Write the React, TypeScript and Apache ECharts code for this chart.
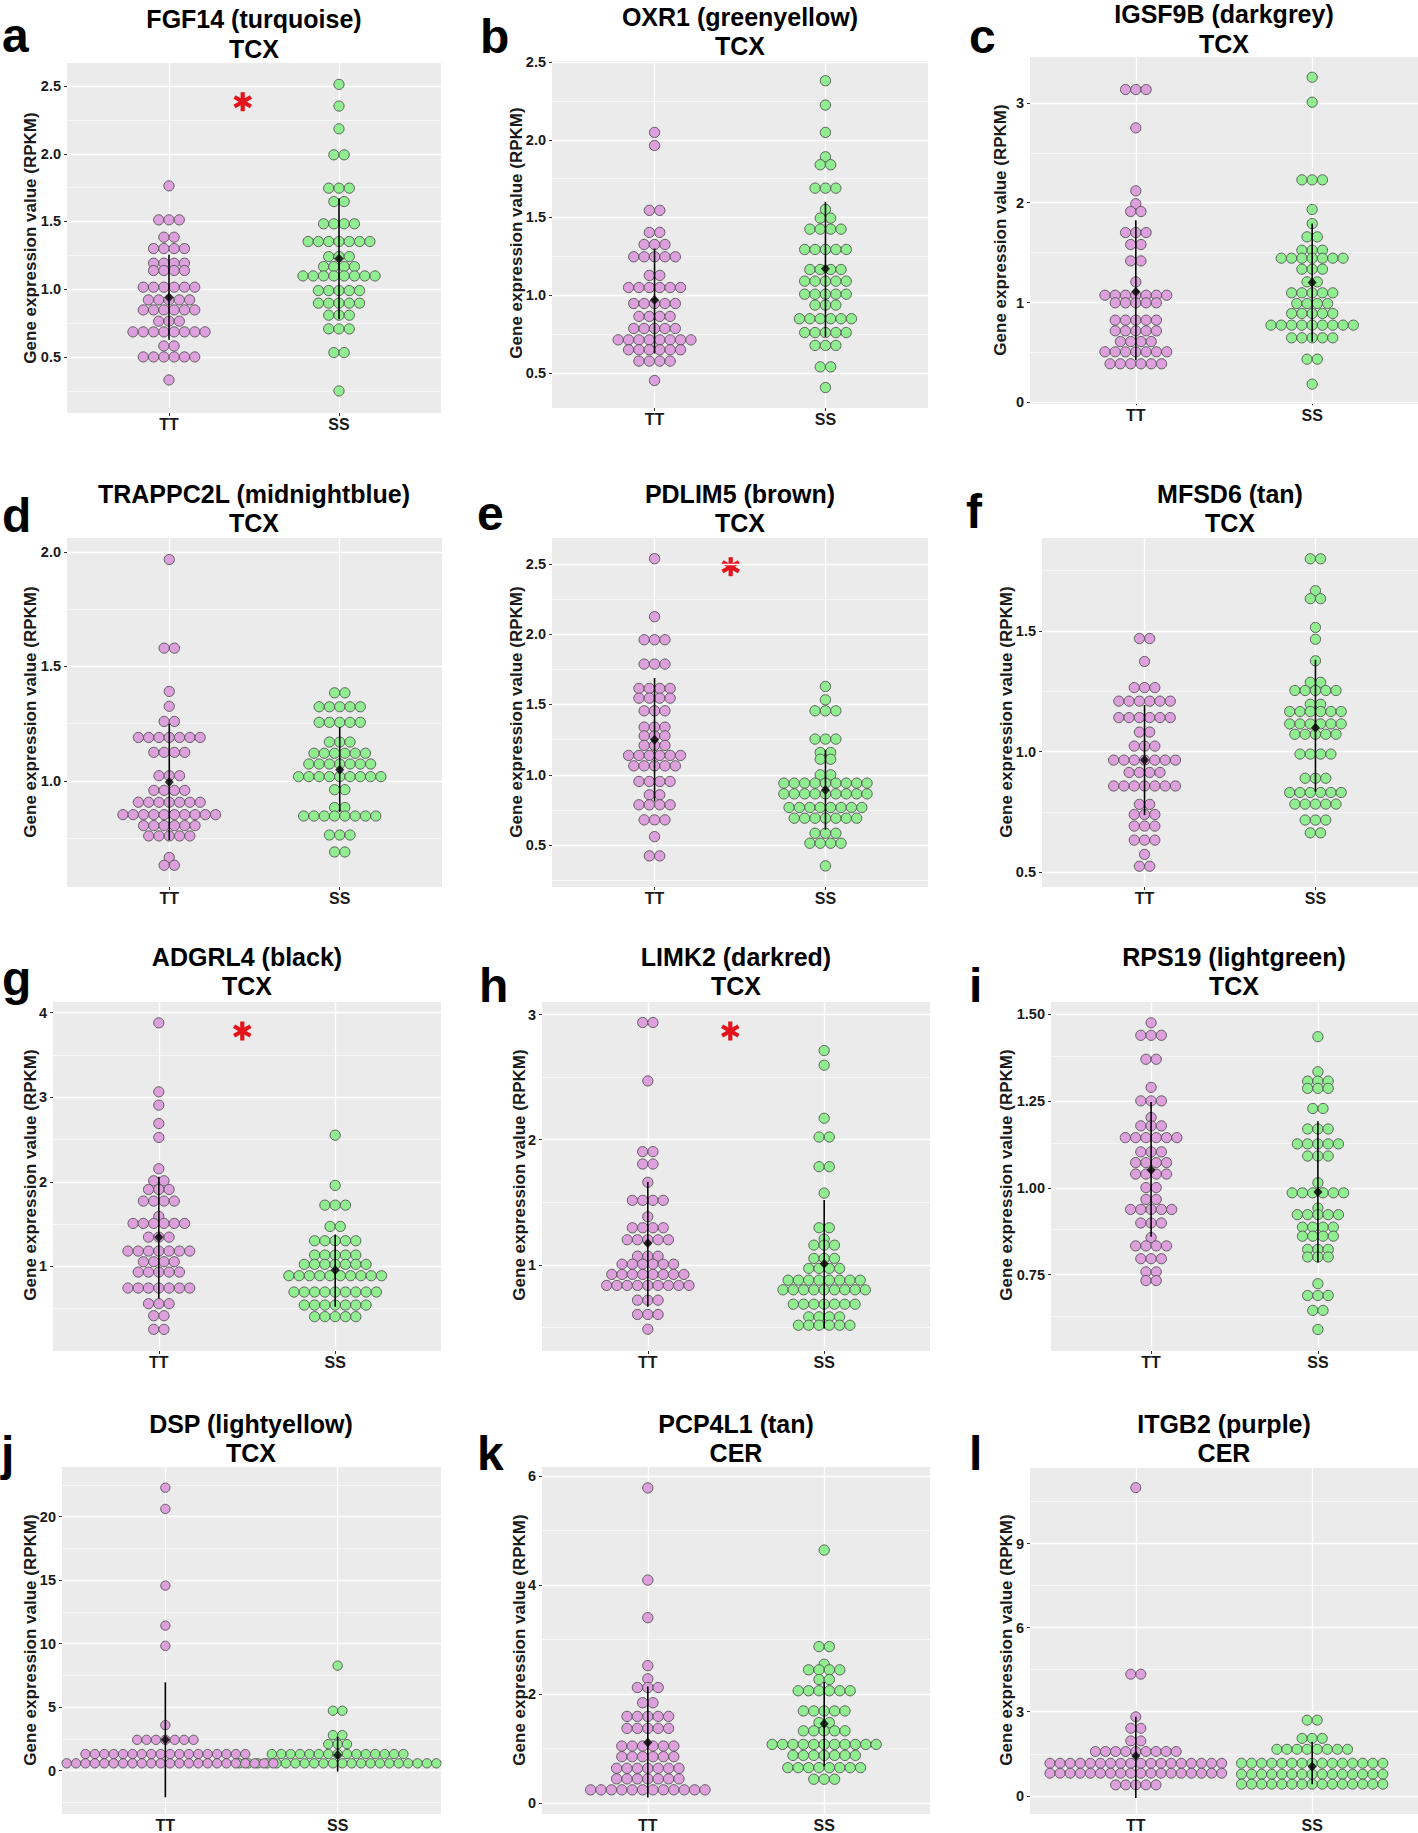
import React, { useEffect, useRef } from "react";
import * as echarts from "echarts";

type Row = [number, number]; // [expression value of a stack row, number of dots in that row]

const GROUPS = ["TT", "SS"];
const GENES = [
  "FGF14 (turquoise)", "OXR1 (greenyellow)", "IGSF9B (darkgrey)",
  "TRAPPC2L (midnightblue)", "PDLIM5 (brown)", "MFSD6 (tan)",
  "ADGRL4 (black)", "LIMK2 (darkred)", "RPS19 (lightgreen)",
  "DSP (lightyellow)", "PCP4L1 (tan)", "ITGB2 (purple)",
];
const TISSUES = ["TCX", "TCX", "TCX", "TCX", "TCX", "TCX", "TCX", "TCX", "TCX", "TCX", "CER", "CER"];
const LETTERS = ["a", "b", "c", "d", "e", "f", "g", "h", "i", "j", "k", "l"];
const SIGNIFICANT = [true, false, false, false, true, false, true, true, false, false, false, false];
const Y_TITLE = "Gene expression value (RPKM)";

// ---- dot rows (value, count) per gene and genotype ----
const FGF14_TT: Row[] = [[1.763,1],[1.512,3],[1.384,2],[1.30,4],[1.192,4],[1.138,4],[1.015,6],[0.921,5],[0.847,6],[0.764,3],[0.685,8],[0.581,2],[0.5,6],[0.33,1]];
const FGF14_SS: Row[] = [[2.512,1],[2.352,1],[2.184,1],[1.992,2],[1.746,3],[1.647,2],[1.483,4],[1.352,7],[1.241,3],[1.167,4],[1.098,8],[0.99,5],[0.897,5],[0.808,3],[0.707,3],[0.532,2],[0.249,1]];
const OXR1_TT: Row[] = [[2.048,1],[1.964,1],[1.546,2],[1.404,2],[1.326,3],[1.247,5],[1.127,2],[1.049,6],[0.946,5],[0.863,4],[0.785,5],[0.712,8],[0.648,6],[0.575,4],[0.45,1]];
const OXR1_SS: Row[] = [[2.381,1],[2.224,1],[2.048,1],[1.891,1],[1.84,2],[1.689,3],[1.552,1],[1.496,2],[1.425,4],[1.294,5],[1.165,4],[1.09,5],[1.006,5],[0.936,3],[0.848,6],[0.759,5],[0.676,3],[0.538,2],[0.405,1]];
const IGSF9B_TT: Row[] = [[3.134,3],[2.75,1],[2.119,1],[1.99,1],[1.912,2],[1.701,3],[1.581,2],[1.417,2],[1.207,1],[1.073,7],[0.997,5],[0.823,5],[0.716,5],[0.609,4],[0.506,7],[0.386,6]];
const IGSF9B_SS: Row[] = [[3.257,1],[3.007,1],[2.229,3],[1.932,1],[1.791,1],[1.658,2],[1.524,3],[1.444,7],[1.334,3],[1.207,2],[1.097,5],[0.99,4],[0.89,5],[0.773,9],[0.646,5],[0.432,2],[0.182,1]];
const TRAPPC2L_TT: Row[] = [[1.967,1],[1.58,2],[1.391,1],[1.326,1],[1.26,2],[1.19,7],[1.125,4],[1.023,3],[0.959,4],[0.907,7],[0.853,10],[0.805,6],[0.76,5],[0.666,1],[0.632,2]];
const TRAPPC2L_SS: Row[] = [[1.385,2],[1.324,5],[1.256,5],[1.17,3],[1.121,6],[1.074,7],[1.019,9],[0.962,2],[0.884,2],[0.847,8],[0.764,3],[0.69,2]];
const PDLIM5_TT: Row[] = [[2.536,1],[2.124,1],[1.96,3],[1.787,3],[1.614,4],[1.545,4],[1.455,3],[1.339,3],[1.277,3],[1.209,3],[1.138,6],[1.064,5],[0.953,4],[0.858,2],[0.787,4],[0.68,3],[0.561,1],[0.424,2]];
const PDLIM5_SS: Row[] = [[1.628,1],[1.533,1],[1.455,3],[1.254,3],[1.159,2],[1.111,2],[1.0,2],[0.941,9],[0.865,9],[0.768,8],[0.692,7],[0.585,3],[0.514,4],[0.353,1]];
const MFSD6_TT: Row[] = [[1.468,2],[1.373,1],[1.265,3],[1.209,6],[1.141,6],[1.081,2],[1.023,3],[0.965,7],[0.914,4],[0.858,7],[0.782,2],[0.74,3],[0.692,3],[0.634,3],[0.575,1],[0.526,2]];
const MFSD6_SS: Row[] = [[1.798,2],[1.666,1],[1.633,2],[1.514,1],[1.465,1],[1.376,1],[1.287,2],[1.253,5],[1.196,2],[1.166,6],[1.115,6],[1.072,5],[0.99,4],[0.89,3],[0.831,6],[0.783,5],[0.717,3],[0.664,2]];
const ADGRL4_TT: Row[] = [[3.878,1],[3.063,1],[2.906,1],[2.689,1],[2.524,1],[2.154,1],[2.012,2],[1.909,3],[1.772,4],[1.591,1],[1.508,6],[1.346,3],[1.181,7],[1.055,4],[0.933,5],[0.744,7],[0.559,3],[0.417,2],[0.256,2]];
const ADGRL4_SS: Row[] = [[2.551,1],[1.957,1],[1.724,3],[1.472,2],[1.303,5],[1.134,5],[1.024,7],[0.89,10],[0.697,9],[0.543,7],[0.406,5]];
const LIMK2_TT: Row[] = [[2.936,2],[2.469,1],[1.904,2],[1.805,2],[1.659,1],[1.515,4],[1.384,1],[1.296,4],[1.2,5],[1.069,3],[1.005,6],[0.923,8],[0.835,9],[0.717,3],[0.603,3],[0.485,1]];
const LIMK2_SS: Row[] = [[2.712,1],[2.595,1],[2.171,1],[2.021,2],[1.784,2],[1.573,1],[1.296,2],[1.205,1],[1.157,3],[1.051,3],[0.971,4],[0.877,8],[0.8,9],[0.685,7],[0.584,4],[0.517,6]];
const RPS19_TT: Row[] = [[1.476,1],[1.44,3],[1.371,2],[1.29,1],[1.251,3],[1.203,1],[1.179,3],[1.145,6],[1.104,3],[1.073,4],[1.04,4],[1.001,2],[0.967,2],[0.938,5],[0.899,3],[0.857,1],[0.833,4],[0.796,3],[0.758,2],[0.733,2]];
const RPS19_SS: Row[] = [[1.436,1],[1.335,1],[1.308,3],[1.287,3],[1.229,2],[1.17,3],[1.127,5],[1.092,3],[1.015,1],[0.986,6],[0.942,1],[0.923,5],[0.887,4],[0.861,4],[0.823,3],[0.801,3],[0.724,1],[0.69,3],[0.647,2],[0.592,1]];
const DSP_TT: Row[] = [[22.27,1],[20.6,1],[14.56,1],[11.41,1],[9.82,1],[3.57,1],[2.42,7],[1.30,18],[0.57,24]];
const DSP_SS: Row[] = [[8.26,1],[4.71,2],[2.79,2],[2.08,3],[1.30,15],[0.57,22]];
const PCP4L1_TT: Row[] = [[5.78,1],[4.09,1],[3.40,1],[2.52,1],[2.28,1],[2.12,3],[1.84,2],[1.59,5],[1.37,5],[1.046,6],[0.851,6],[0.638,7],[0.444,7],[0.243,12]];
const PCP4L1_SS: Row[] = [[4.64,1],[2.87,2],[2.547,1],[2.444,4],[2.267,2],[2.06,6],[1.69,5],[1.477,2],[1.325,5],[1.076,11],[0.875,7],[0.65,8],[0.438,3]];
const ITGB2_TT: Row[] = [[11.0,1],[4.34,2],[2.82,1],[2.41,2],[1.96,2],[1.58,9],[1.16,18],[0.806,18],[0.39,5]];
const ITGB2_SS: Row[] = [[2.70,2],[2.05,3],[1.66,8],[1.162,15],[0.77,15],[0.415,15]];

const TT_ROWS = [FGF14_TT, OXR1_TT, IGSF9B_TT, TRAPPC2L_TT, PDLIM5_TT, MFSD6_TT, ADGRL4_TT, LIMK2_TT, RPS19_TT, DSP_TT, PCP4L1_TT, ITGB2_TT];
const SS_ROWS = [FGF14_SS, OXR1_SS, IGSF9B_SS, TRAPPC2L_SS, PDLIM5_SS, MFSD6_SS, ADGRL4_SS, LIMK2_SS, RPS19_SS, DSP_SS, PCP4L1_SS, ITGB2_SS];

// ---- mean and mean ± SD ----
const TT_MEAN = [0.938, 0.968, 1.107, 0.996, 1.249, 0.965, 1.343, 1.173, 1.052, 2.42, 1.112, 1.423];
const TT_LOW = [0.626, 0.624, 0.422, 0.741, 0.81, 0.738, 0.622, 0.664, 0.859, -2.11, 0.103, -0.08];
const TT_HIGH = [1.254, 1.30, 1.825, 1.25, 1.688, 1.193, 2.059, 1.664, 1.248, 6.95, 2.14, 2.82];
const SS_MEAN = [1.226, 1.17, 1.2, 1.049, 0.893, 1.099, 0.957, 1.008, 0.988, 1.22, 1.453, 1.043];
const SS_LOW = [0.778, 0.731, 0.606, 0.865, 0.609, 0.834, 0.524, 0.491, 0.785, -0.08, 0.669, 0.415];
const SS_HIGH = [1.672, 1.601, 1.791, 1.235, 1.178, 1.38, 1.378, 1.517, 1.192, 2.66, 2.219, 1.93];

// ---- y scales ----
const Y_MIN = [0.086, 0.273, -0.017, 0.537, 0.203, 0.44, 0.0, 0.311, 0.53, -3.42, -0.2, -0.65];
const Y_MAX = [2.67, 2.508, 3.46, 2.061, 2.683, 1.884, 4.125, 3.1, 1.536, 23.9, 6.164, 11.7];
const MAJOR_TICKS = [
  [0.5, 1, 1.5, 2, 2.5], [0.5, 1, 1.5, 2, 2.5], [0, 1, 2, 3],
  [1, 1.5, 2], [0.5, 1, 1.5, 2, 2.5], [0.5, 1, 1.5],
  [1, 2, 3, 4], [1, 2, 3], [0.75, 1, 1.25, 1.5],
  [0, 5, 10, 15, 20], [0, 2, 4, 6], [0, 3, 6, 9],
];
const MINOR_TICKS = [
  [0.25, 0.75, 1.25, 1.75, 2.25], [0.75, 1.25, 1.75, 2.25], [0.5, 1.5, 2.5],
  [0.75, 1.25, 1.75], [0.25, 0.75, 1.25, 1.75, 2.25], [0.75, 1.25, 1.75],
  [0.5, 1.5, 2.5, 3.5], [0.5, 1.5, 2.5], [0.625, 0.875, 1.125, 1.375],
  [-2.5, 2.5, 7.5, 12.5, 17.5, 22.5], [1, 3, 5], [1.5, 4.5, 7.5, 10.5],
];
const DECIMALS = [1, 1, 0, 1, 1, 1, 0, 0, 2, 0, 0, 0];

// ---- layout (pixels) ----
const LAYOUT = [
  { left: 67, top: 63, w: 374, h: 350, tx: 254, tb: 57.3, lx: 2, lb: 52, ax: 30, ay: 238, dot: 10.3 },
  { left: 552, top: 61, w: 376, h: 347, tx: 740, tb: 55, lx: 480, lb: 53, ax: 516, ay: 233, dot: 10.4 },
  { left: 1030, top: 57, w: 388, h: 347, tx: 1224, tb: 52.5, lx: 969, lb: 53, ax: 1000, ay: 230, dot: 10.3 },
  { left: 67, top: 538, w: 375, h: 349, tx: 254, tb: 531.7, lx: 2, lb: 532, ax: 30, ay: 712, dot: 10.3 },
  { left: 552, top: 538, w: 376, h: 349, tx: 740, tb: 532, lx: 477, lb: 530, ax: 516, ay: 712, dot: 10.4 },
  { left: 1042, top: 538, w: 376, h: 349, tx: 1230, tb: 532, lx: 966, lb: 528, ax: 1006, ay: 712, dot: 10.3 },
  { left: 53, top: 1002, w: 388, h: 349, tx: 247, tb: 995, lx: 2, lb: 995, ax: 30, ay: 1175, dot: 10.3 },
  { left: 542, top: 1002, w: 388, h: 349, tx: 736, tb: 995, lx: 479, lb: 1002, ax: 519, ay: 1175, dot: 10.3 },
  { left: 1051, top: 1002, w: 367, h: 349, tx: 1234, tb: 995, lx: 969, lb: 1002, ax: 1006, ay: 1175, dot: 10.3 },
  { left: 62, top: 1467, w: 379, h: 349, tx: 251, tb: 1461.7, lx: 1, lb: 1470, ax: 30, ay: 1640, dot: 9.4 },
  { left: 542, top: 1467, w: 388, h: 349, tx: 736, tb: 1461.7, lx: 477, lb: 1470, ax: 519, ay: 1640, dot: 10.4 },
  { left: 1030, top: 1468, w: 388, h: 348, tx: 1224, tb: 1461.7, lx: 969, lb: 1470, ax: 1006, ay: 1640, dot: 10.1 },
];
const STAR_POS: Record<number, [number, number]> = { 0: [242.7, 101.7], 4: [730.7, 566.7], 6: [242.3, 1031], 7: [730.3, 1031] };

const FONT = "'Liberation Sans', Arial, sans-serif";
const TT_FILL = "#DDA0DD";
const SS_FILL = "#90EE90";
const PANEL_BG = "#EBEBEB";

function stackDots(rows: Row[], center: number, step: number): number[][] {
  const out: number[][] = [];
  rows.forEach(([v, n]) => {
    for (let k = 0; k < n; k++) out.push([center + (k - (n - 1) / 2) * step, v]);
  });
  return out;
}

function buildOption() {
  const grid: any[] = [], xAxis: any[] = [], yAxis: any[] = [], series: any[] = [], graphic: any[] = [];
  GENES.forEach((gene, i) => {
    const L = LAYOUT[i];
    grid.push({ left: L.left, top: L.top, width: L.w, height: L.h, show: true, backgroundColor: PANEL_BG, borderWidth: 0 });
    xAxis.push({
      gridIndex: i, type: "value", min: 0.4, max: 2.6,
      axisLine: { show: false }, splitLine: { show: false },
      axisTick: { show: true, customValues: [1, 2], length: 3, lineStyle: { color: "#333", width: 1 } },
      axisLabel: {
        customValues: [1, 2], margin: 3, fontSize: 16, fontWeight: "bold", color: "#1a1a1a", fontFamily: FONT,
        formatter: (v: number) => GROUPS[Math.round(v) - 1] ?? "",
      },
    });
    const dec = DECIMALS[i];
    yAxis.push({
      gridIndex: i, type: "value", min: Y_MIN[i], max: Y_MAX[i],
      axisLine: { show: false }, splitLine: { show: false },
      axisTick: { show: true, customValues: MAJOR_TICKS[i], length: 3, lineStyle: { color: "#333", width: 1 } },
      axisLabel: {
        customValues: MAJOR_TICKS[i], margin: 6, fontSize: 14.5, fontWeight: "bold", color: "#1a1a1a", fontFamily: FONT,
        formatter: (v: number) => v.toFixed(dec),
      },
    });
    const step = L.dot / (L.w / 2.2);
    const gridLines = [
      ...MAJOR_TICKS[i].map((v) => ({ yAxis: v, lineStyle: { width: 1.3 } })),
      ...MINOR_TICKS[i].map((v) => ({ yAxis: v, lineStyle: { width: 0.6 } })),
      { xAxis: 1, lineStyle: { width: 1.3 } },
      { xAxis: 2, lineStyle: { width: 1.3 } },
    ];
    const dotStyle = (fill: string) => ({ color: fill, borderColor: "#505050", borderWidth: 0.9, opacity: 1 });
    series.push({
      type: "scatter", name: GROUPS[1], xAxisIndex: i, yAxisIndex: i, z: 2, silent: true,
      symbol: "circle", symbolSize: L.dot - 0.1, itemStyle: dotStyle(SS_FILL),
      data: stackDots(SS_ROWS[i], 2, step),
      markLine: {
        silent: true, z: 1, symbol: ["none", "none"], label: { show: false },
        lineStyle: { color: "#ffffff", type: "solid" }, emphasis: { disabled: true },
        data: gridLines,
      },
    });
    series.push({
      type: "scatter", name: GROUPS[0], xAxisIndex: i, yAxisIndex: i, z: 2, silent: true,
      symbol: "circle", symbolSize: L.dot - 0.1, itemStyle: dotStyle(TT_FILL),
      data: stackDots(TT_ROWS[i], 1, step),
    });
    [[1, TT_LOW[i], TT_HIGH[i]], [2, SS_LOW[i], SS_HIGH[i]]].forEach(([x, lo, hi]) => {
      series.push({
        type: "line", xAxisIndex: i, yAxisIndex: i, z: 4, silent: true, showSymbol: false, symbol: "none",
        lineStyle: { color: "#000", width: 1.6 }, data: [[x, lo], [x, hi]],
      });
    });
    series.push({
      type: "scatter", xAxisIndex: i, yAxisIndex: i, z: 5, silent: true,
      symbol: "diamond", symbolSize: [9, 10], itemStyle: { color: "#000" },
      data: [[1, TT_MEAN[i]], [2, SS_MEAN[i]]],
    });

    // titles
    const tfs = 25;
    const line2 = L.tb - 0.3465 * tfs;
    graphic.push({ type: "text", x: L.tx, y: line2 - 29.5, z: 100, style: { text: gene, font: `bold ${tfs}px ${FONT}`, fill: "#000", align: "center", verticalAlign: "middle" } });
    graphic.push({ type: "text", x: L.tx, y: line2, z: 100, style: { text: TISSUES[i], font: `bold ${tfs}px ${FONT}`, fill: "#000", align: "center", verticalAlign: "middle" } });
    // panel letter
    const lfs = 48;
    graphic.push({ type: "text", x: L.lx, y: L.lb - 0.3465 * lfs, z: 100, style: { text: LETTERS[i], font: `bold ${lfs}px ${FONT}`, fill: "#000", align: "left", verticalAlign: "middle" } });
    // y-axis title
    graphic.push({ type: "text", x: L.ax, y: L.ay, rotation: Math.PI / 2, z: 100, style: { text: Y_TITLE, font: `bold 17px ${FONT}`, fill: "#1a1a1a", align: "center", verticalAlign: "middle" } });
    // significance asterisk
    if (SIGNIFICANT[i] && STAR_POS[i]) {
      const [cx, cy] = STAR_POS[i];
      const r = 9.5;
      const children = [90, 30, 150].map((deg) => {
        const a = (deg * Math.PI) / 180;
        return { type: "line", shape: { x1: cx - r * Math.cos(a), y1: cy - r * Math.sin(a), x2: cx + r * Math.cos(a), y2: cy + r * Math.sin(a) }, style: { stroke: "#E3141C", lineWidth: 4.2 } };
      });
      graphic.push({ type: "group", z: 100, children });
    }
  });
  return { animation: false, backgroundColor: "#ffffff", textStyle: { fontFamily: FONT }, grid, xAxis, yAxis, series, graphic };
}

export default function App() {
  const ref = useRef<HTMLDivElement>(null);
  useEffect(() => {
    const chart = echarts.init(ref.current!, null, { renderer: "svg" });
    chart.setOption(buildOption() as any);
    return () => chart.dispose();
  }, []);
  return <div ref={ref} style={{ position: "absolute", left: 0, top: 0, width: 1418, height: 1833, background: "#fff" }} />;
}
